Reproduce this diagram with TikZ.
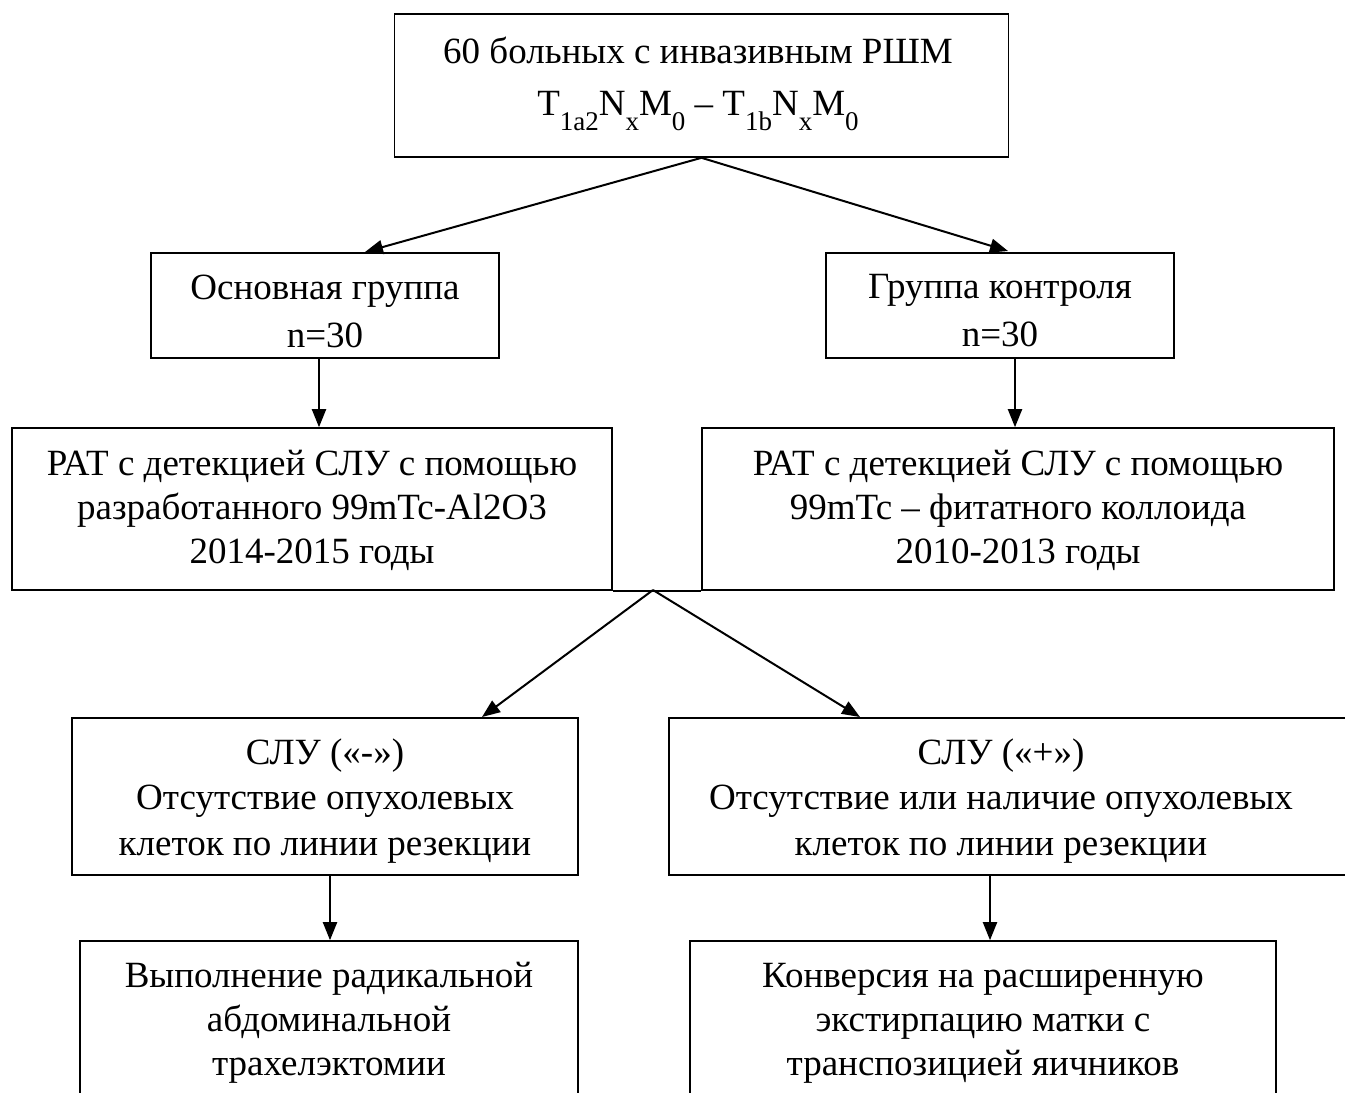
\documentclass[tikz,border=0pt]{standalone}
\usepackage{fontspec}
\setmainfont{Liberation Serif}
\usetikzlibrary{arrows.meta}
\newcommand{\sbs}[1]{\raisebox{-15pt}{\fontsize{27}{27}\selectfont #1}}
\begin{document}
\begin{tikzpicture}[x=1pt,y=-1pt,
  box/.style={draw, line width=1.6pt, inner sep=0pt},
  txt/.style={align=center, inner sep=0pt},
  fa/.style={font=\fontsize{37}{48}\selectfont},
  fc/.style={font=\fontsize{37}{44}\selectfont},
  fe/.style={font=\fontsize{37}{45.5}\selectfont},
  arr/.style={-{Triangle[length=18pt,width=14pt]}, line width=2pt},
  ln/.style={line width=1.6pt}]
\clip (0,0) rectangle (1345,1093);
\fill[white] (0,0) rectangle (1345,1093);
% top box
\node[box, minimum width=614pt, minimum height=143pt] (top) at (701.5,85.5) {};
\node[txt, fc] (topt) at (698,84)
  {60 больных с инвазивным РШМ\\[8pt]
   T\sbs{1a2}N\sbs{x}M\sbs{0} – T\sbs{1b}N\sbs{x}M\sbs{0}};
% groups
\node[box, minimum width=348pt, minimum height=105pt] (A) at (325,305.5) {};
\node[txt, fa] (At) at (325,311) {Основная группа\\n=30};
\node[box, minimum width=348pt, minimum height=105pt] (B) at (1000,305.5) {};
\node[txt, fa] (Bt) at (1000,311) {Группа контроля\\n=30};
% RAT boxes
\node[box, minimum width=600pt, minimum height=162pt] (C) at (312,509) {};
\node[txt, fc] (Ct) at (312,510)
  {РАТ с детекцией СЛУ с помощью\\разработанного 99mTc-Al2O3\\2014-2015 годы};
\node[box, minimum width=632pt, minimum height=162pt] (D) at (1018,509) {};
\node[txt, fc] (Dt) at (1018,510)
  {РАТ с детекцией СЛУ с помощью\\99mTc – фитатного коллоида\\2010-2013 годы};
% SLN boxes
\node[box, minimum width=506pt, minimum height=157pt] (E) at (325,796.5) {};
\node[txt, fe] (Et) at (325,801)
  {СЛУ («-»)\\Отсутствие опухолевых\\клеток по линии резекции};
\node[box, minimum width=732pt, minimum height=157pt] (F) at (1035,796.5) {};
\node[txt, fe] (Ft) at (1001,801)
  {СЛУ («+»)\\Отсутствие или наличие опухолевых\\клеток по линии резекции};
% bottom boxes
\node[box, minimum width=498pt, minimum height=156pt] (G) at (329,1019) {};
\node[txt, fc] (Gt) at (329,1023)
  {Выполнение радикальной\\абдоминальной\\трахелэктомии};
\node[box, minimum width=586pt, minimum height=156pt] (H) at (983,1019) {};
\node[txt, fc] (Ht) at (983,1023)
  {Конверсия на расширенную\\экстирпацию матки с\\транспозицией яичников};
% connectors
\coordinate (ts) at (top.south);
\coordinate (tA) at (365,252);
\coordinate (tB) at (1008,251);
\draw[arr] (ts) -- (tA);
\draw[arr] (ts) -- (tB);
\draw[arr] (A.south -| 319,0) -- (C.north -| 319,0);
\draw[arr] (B.south -| 1015,0) -- (D.north -| 1015,0);
\draw[ln] (C.south east) -- (D.south west);
\coordinate (sp) at (653,590);
\coordinate (tE) at (482,717);
\coordinate (tF) at (860,717);
\draw[arr] (sp) -- (tE);
\draw[arr] (sp) -- (tF);
\draw[arr] (E.south -| 330,0) -- (G.north -| 330,0);
\draw[arr] (F.south -| 990,0) -- (H.north -| 990,0);
\end{tikzpicture}
\end{document}
